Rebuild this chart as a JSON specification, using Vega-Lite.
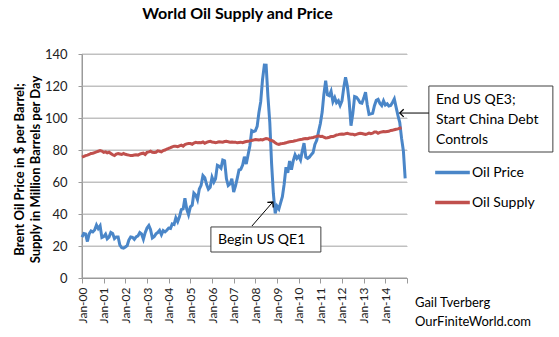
{
  "$schema": "https://vega.github.io/schema/vega-lite/v6.json",
  "width": 325,
  "height": 224,
  "autosize": {"type": "none"},
  "padding": {"left": 82, "top": 54, "right": 152, "bottom": 59},
  "background": "white",
  "title": {"text": "World Oil Supply and Price", "font": "Lato", "fontSize": 16, "fontWeight": "bold", "color": "#000000", "anchor": "middle", "offset": 26, "dx": -7},
  "config": {"view": {"stroke": null}, "font": "Lato"},
  "datasets": {
    "oil": [
      {"x":"2000-01","Oil Price":25.5,"Oil Supply":75.5},{"x":"2000-02","Oil Price":27.8,"Oil Supply":76.0},{"x":"2000-03","Oil Price":27.5,"Oil Supply":76.5},{"x":"2000-04","Oil Price":22.8,"Oil Supply":76.8},{"x":"2000-05","Oil Price":27.6,"Oil Supply":77.2},{"x":"2000-06","Oil Price":29.4,"Oil Supply":77.8},{"x":"2000-07","Oil Price":28.8,"Oil Supply":78.0},{"x":"2000-08","Oil Price":30.0,"Oil Supply":78.4},{"x":"2000-09","Oil Price":33.1,"Oil Supply":78.8},{"x":"2000-10","Oil Price":30.9,"Oil Supply":79.2},{"x":"2000-11","Oil Price":32.6,"Oil Supply":79.6},{"x":"2000-12","Oil Price":25.3,"Oil Supply":79.3},
      {"x":"2001-01","Oil Price":25.9,"Oil Supply":78.5},{"x":"2001-02","Oil Price":27.4,"Oil Supply":78.8},{"x":"2001-03","Oil Price":24.5,"Oil Supply":78.2},{"x":"2001-04","Oil Price":25.6,"Oil Supply":78.6},{"x":"2001-05","Oil Price":28.5,"Oil Supply":77.8},{"x":"2001-06","Oil Price":27.8,"Oil Supply":77.0},{"x":"2001-07","Oil Price":24.6,"Oil Supply":76.5},{"x":"2001-08","Oil Price":25.7,"Oil Supply":77.5},{"x":"2001-09","Oil Price":25.7,"Oil Supply":77.8},{"x":"2001-10","Oil Price":20.5,"Oil Supply":77.5},{"x":"2001-11","Oil Price":18.9,"Oil Supply":77.2},{"x":"2001-12","Oil Price":18.6,"Oil Supply":77.8},
      {"x":"2002-01","Oil Price":19.4,"Oil Supply":77.3},{"x":"2002-02","Oil Price":20.3,"Oil Supply":77.0},{"x":"2002-03","Oil Price":23.7,"Oil Supply":76.8},{"x":"2002-04","Oil Price":25.7,"Oil Supply":76.5},{"x":"2002-05","Oil Price":25.4,"Oil Supply":76.6},{"x":"2002-06","Oil Price":24.1,"Oil Supply":76.9},{"x":"2002-07","Oil Price":25.7,"Oil Supply":77.0},{"x":"2002-08","Oil Price":26.3,"Oil Supply":76.8},{"x":"2002-09","Oil Price":28.4,"Oil Supply":77.4},{"x":"2002-10","Oil Price":27.5,"Oil Supply":77.8},{"x":"2002-11","Oil Price":24.2,"Oil Supply":78.0},{"x":"2002-12","Oil Price":28.3,"Oil Supply":77.2},
      {"x":"2003-01","Oil Price":31.2,"Oil Supply":78.5},{"x":"2003-02","Oil Price":32.8,"Oil Supply":78.8},{"x":"2003-03","Oil Price":30.3,"Oil Supply":79.2},{"x":"2003-04","Oil Price":25.0,"Oil Supply":78.5},{"x":"2003-05","Oil Price":25.8,"Oil Supply":78.4},{"x":"2003-06","Oil Price":27.6,"Oil Supply":78.6},{"x":"2003-07","Oil Price":28.4,"Oil Supply":79.5},{"x":"2003-08","Oil Price":29.8,"Oil Supply":79.2},{"x":"2003-09","Oil Price":27.1,"Oil Supply":78.8},{"x":"2003-10","Oil Price":29.6,"Oil Supply":79.6},{"x":"2003-11","Oil Price":28.8,"Oil Supply":80.0},{"x":"2003-12","Oil Price":29.8,"Oil Supply":80.6},
      {"x":"2004-01","Oil Price":31.2,"Oil Supply":81.0},{"x":"2004-02","Oil Price":30.9,"Oil Supply":81.5},{"x":"2004-03","Oil Price":33.8,"Oil Supply":82.0},{"x":"2004-04","Oil Price":33.4,"Oil Supply":82.4},{"x":"2004-05","Oil Price":37.6,"Oil Supply":82.3},{"x":"2004-06","Oil Price":35.2,"Oil Supply":82.1},{"x":"2004-07","Oil Price":38.2,"Oil Supply":82.6},{"x":"2004-08","Oil Price":42.7,"Oil Supply":83.0},{"x":"2004-09","Oil Price":43.2,"Oil Supply":82.4},{"x":"2004-10","Oil Price":49.8,"Oil Supply":83.4},{"x":"2004-11","Oil Price":43.1,"Oil Supply":83.8},{"x":"2004-12","Oil Price":39.6,"Oil Supply":84.1},
      {"x":"2005-01","Oil Price":44.5,"Oil Supply":84.0},{"x":"2005-02","Oil Price":45.5,"Oil Supply":83.6},{"x":"2005-03","Oil Price":53.1,"Oil Supply":84.3},{"x":"2005-04","Oil Price":51.9,"Oil Supply":84.8},{"x":"2005-05","Oil Price":49.0,"Oil Supply":84.5},{"x":"2005-06","Oil Price":55.6,"Oil Supply":84.7},{"x":"2005-07","Oil Price":57.9,"Oil Supply":84.6},{"x":"2005-08","Oil Price":64.0,"Oil Supply":85.0},{"x":"2005-09","Oil Price":62.7,"Oil Supply":84.2},{"x":"2005-10","Oil Price":58.5,"Oil Supply":84.7},{"x":"2005-11","Oil Price":55.5,"Oil Supply":85.2},{"x":"2005-12","Oil Price":56.7,"Oil Supply":85.4},
      {"x":"2006-01","Oil Price":63.0,"Oil Supply":85.0},{"x":"2006-02","Oil Price":60.0,"Oil Supply":84.8},{"x":"2006-03","Oil Price":62.0,"Oil Supply":84.6},{"x":"2006-04","Oil Price":70.4,"Oil Supply":84.8},{"x":"2006-05","Oil Price":69.8,"Oil Supply":85.1},{"x":"2006-06","Oil Price":68.6,"Oil Supply":85.0},{"x":"2006-07","Oil Price":73.7,"Oil Supply":84.9},{"x":"2006-08","Oil Price":73.2,"Oil Supply":85.3},{"x":"2006-09","Oil Price":62.0,"Oil Supply":85.4},{"x":"2006-10","Oil Price":57.8,"Oil Supply":85.2},{"x":"2006-11","Oil Price":58.8,"Oil Supply":84.9},{"x":"2006-12","Oil Price":62.0,"Oil Supply":85.0},
      {"x":"2007-01","Oil Price":53.7,"Oil Supply":84.8},{"x":"2007-02","Oil Price":57.6,"Oil Supply":84.9},{"x":"2007-03","Oil Price":62.1,"Oil Supply":84.5},{"x":"2007-04","Oil Price":67.5,"Oil Supply":84.7},{"x":"2007-05","Oil Price":67.9,"Oil Supply":84.9},{"x":"2007-06","Oil Price":70.6,"Oil Supply":84.6},{"x":"2007-07","Oil Price":75.8,"Oil Supply":85.0},{"x":"2007-08","Oil Price":71.2,"Oil Supply":85.3},{"x":"2007-09","Oil Price":77.0,"Oil Supply":85.5},{"x":"2007-10","Oil Price":82.5,"Oil Supply":85.7},{"x":"2007-11","Oil Price":92.1,"Oil Supply":86.0},{"x":"2007-12","Oil Price":91.5,"Oil Supply":86.2},
      {"x":"2008-01","Oil Price":92.0,"Oil Supply":86.5},{"x":"2008-02","Oil Price":94.8,"Oil Supply":86.4},{"x":"2008-03","Oil Price":103.3,"Oil Supply":86.2},{"x":"2008-04","Oil Price":110.2,"Oil Supply":86.5},{"x":"2008-05","Oil Price":123.9,"Oil Supply":86.3},{"x":"2008-06","Oil Price":133.1,"Oil Supply":86.8},{"x":"2008-07","Oil Price":133.0,"Oil Supply":87.2},{"x":"2008-08","Oil Price":113.2,"Oil Supply":87.0},{"x":"2008-09","Oil Price":97.2,"Oil Supply":86.2},{"x":"2008-10","Oil Price":71.6,"Oil Supply":86.0},{"x":"2008-11","Oil Price":52.5,"Oil Supply":85.4},{"x":"2008-12","Oil Price":40.4,"Oil Supply":84.5},
      {"x":"2009-01","Oil Price":44.9,"Oil Supply":83.8},{"x":"2009-02","Oil Price":43.2,"Oil Supply":83.5},{"x":"2009-03","Oil Price":46.8,"Oil Supply":83.9},{"x":"2009-04","Oil Price":50.8,"Oil Supply":84.0},{"x":"2009-05","Oil Price":58.6,"Oil Supply":84.2},{"x":"2009-06","Oil Price":69.3,"Oil Supply":84.5},{"x":"2009-07","Oil Price":65.8,"Oil Supply":84.9},{"x":"2009-08","Oil Price":73.1,"Oil Supply":85.1},{"x":"2009-09","Oil Price":67.7,"Oil Supply":85.3},{"x":"2009-10","Oil Price":73.2,"Oil Supply":85.5},{"x":"2009-11","Oil Price":77.0,"Oil Supply":85.8},{"x":"2009-12","Oil Price":74.7,"Oil Supply":86.0},
      {"x":"2010-01","Oil Price":76.2,"Oil Supply":86.3},{"x":"2010-02","Oil Price":73.8,"Oil Supply":86.6},{"x":"2010-03","Oil Price":79.0,"Oil Supply":86.7},{"x":"2010-04","Oil Price":84.3,"Oil Supply":87.0},{"x":"2010-05","Oil Price":75.6,"Oil Supply":87.2},{"x":"2010-06","Oil Price":74.8,"Oil Supply":87.1},{"x":"2010-07","Oil Price":75.6,"Oil Supply":87.5},{"x":"2010-08","Oil Price":77.1,"Oil Supply":87.6},{"x":"2010-09","Oil Price":78.4,"Oil Supply":87.8},{"x":"2010-10","Oil Price":83.5,"Oil Supply":88.2},{"x":"2010-11","Oil Price":86.1,"Oil Supply":88.5},{"x":"2010-12","Oil Price":91.4,"Oil Supply":88.8},
      {"x":"2011-01","Oil Price":96.5,"Oil Supply":88.5},{"x":"2011-02","Oil Price":103.7,"Oil Supply":88.6},{"x":"2011-03","Oil Price":114.6,"Oil Supply":88.0},{"x":"2011-04","Oil Price":123.3,"Oil Supply":87.5},{"x":"2011-05","Oil Price":114.5,"Oil Supply":87.7},{"x":"2011-06","Oil Price":113.9,"Oil Supply":88.0},{"x":"2011-07","Oil Price":116.7,"Oil Supply":88.4},{"x":"2011-08","Oil Price":110.2,"Oil Supply":88.5},{"x":"2011-09","Oil Price":112.8,"Oil Supply":88.8},{"x":"2011-10","Oil Price":109.6,"Oil Supply":89.4},{"x":"2011-11","Oil Price":110.8,"Oil Supply":89.6},{"x":"2011-12","Oil Price":107.9,"Oil Supply":89.9},
      {"x":"2012-01","Oil Price":110.7,"Oil Supply":90.0},{"x":"2012-02","Oil Price":119.3,"Oil Supply":89.8},{"x":"2012-03","Oil Price":125.5,"Oil Supply":90.2},{"x":"2012-04","Oil Price":119.8,"Oil Supply":90.4},{"x":"2012-05","Oil Price":110.3,"Oil Supply":90.1},{"x":"2012-06","Oil Price":95.2,"Oil Supply":89.8},{"x":"2012-07","Oil Price":102.6,"Oil Supply":89.9},{"x":"2012-08","Oil Price":113.4,"Oil Supply":89.4},{"x":"2012-09","Oil Price":113.0,"Oil Supply":89.8},{"x":"2012-10","Oil Price":111.5,"Oil Supply":90.2},{"x":"2012-11","Oil Price":109.5,"Oil Supply":90.5},{"x":"2012-12","Oil Price":109.2,"Oil Supply":90.3},
      {"x":"2013-01","Oil Price":112.3,"Oil Supply":90.0},{"x":"2013-02","Oil Price":116.1,"Oil Supply":89.7},{"x":"2013-03","Oil Price":108.5,"Oil Supply":90.1},{"x":"2013-04","Oil Price":102.3,"Oil Supply":90.6},{"x":"2013-05","Oil Price":102.6,"Oil Supply":90.2},{"x":"2013-06","Oil Price":102.9,"Oil Supply":90.5},{"x":"2013-07","Oil Price":107.7,"Oil Supply":91.2},{"x":"2013-08","Oil Price":111.0,"Oil Supply":91.3},{"x":"2013-09","Oil Price":111.6,"Oil Supply":90.5},{"x":"2013-10","Oil Price":109.1,"Oil Supply":91.0},{"x":"2013-11","Oil Price":107.8,"Oil Supply":91.3},{"x":"2013-12","Oil Price":110.8,"Oil Supply":91.5},
      {"x":"2014-01","Oil Price":108.1,"Oil Supply":91.4},{"x":"2014-02","Oil Price":108.9,"Oil Supply":91.6},{"x":"2014-03","Oil Price":107.5,"Oil Supply":91.7},{"x":"2014-04","Oil Price":107.8,"Oil Supply":92.2},{"x":"2014-05","Oil Price":109.7,"Oil Supply":92.3},{"x":"2014-06","Oil Price":111.9,"Oil Supply":92.7},{"x":"2014-07","Oil Price":106.8,"Oil Supply":93.0},{"x":"2014-08","Oil Price":101.6,"Oil Supply":93.2},{"x":"2014-09","Oil Price":97.1,"Oil Supply":93.6},{"x":"2014-10","Oil Price":87.4,"Oil Supply":93.9},{"x":"2014-11","Oil Price":79.4,"Oil Supply":null},{"x":"2014-12","Oil Price":62.3,"Oil Supply":null}
    ],
    "gridlines": [
      {"x": "2000-01-01", "x2": "2015-01-01", "y": 20, "y2": 20},
      {"x": "2000-01-01", "x2": "2015-01-01", "y": 40, "y2": 40},
      {"x": "2000-01-01", "x2": "2015-01-01", "y": 60, "y2": 60},
      {"x": "2000-01-01", "x2": "2015-01-01", "y": 80, "y2": 80},
      {"x": "2000-01-01", "x2": "2015-01-01", "y": 100, "y2": 100},
      {"x": "2000-01-01", "x2": "2015-01-01", "y": 120, "y2": 120},
      {"x": "2000-01-01", "x2": "2015-01-01", "y": 140, "y2": 140}
    ],
    "axislines": [
      {"x": "2000-01-01", "x2": "2015-01-01", "y": 0, "y2": 0},
      {"x": "2000-01-01", "x2": "2000-01-01", "y": 0, "y2": 140}
    ],
    "boxes": [
      {"label": "QE1", "x": "2005-12-13", "x2": "2011-01-10", "y": 16.25, "y2": 31.9},
      {"label": "QE3", "x": "2016-01-05", "x2": "2021-09-25", "y": 78.75, "y2": 120}
    ],
    "arrows": [
      {"label": "QE1", "x": "2007-11-05", "y": 32.5, "x2": "2008-10-22", "y2": 47.5},
      {"label": "QE3", "x": "2016-01-05", "y": 103.1, "x2": "2014-09-02", "y2": 103.1}
    ],
    "heads": [
      {"label": "QE1", "x": "2008-10-22", "y": 47.5},
      {"label": "QE3", "x": "2014-09-02", "y": 103.1}
    ],
    "notes": [
      {"x": "2006-04-12", "y": 24, "text": "Begin US QE1"},
      {"x": "2016-05-03", "y": 111.25, "text": "End US QE3;"},
      {"x": "2016-05-03", "y": 98.75, "text": "Start China Debt"},
      {"x": "2016-05-03", "y": 86.25, "text": "Controls"}
    ],
    "credits": [
      {"x": "2015-05-15", "y": -15.6, "text": "Gail Tverberg"},
      {"x": "2015-05-15", "y": -27.5, "text": "OurFiniteWorld.com"}
    ]
  },
  "encoding": {
    "x": {
      "field": "x", "type": "temporal",
      "scale": {"type": "utc", "domain": [{"year": 2000, "month": 1, "date": 1, "utc": true}, {"year": 2015, "month": 1, "date": 1, "utc": true}]},
      "axis": {
        "title": null, "grid": false, "tickCount": {"interval": "year", "step": 1},
        "labelExpr": "utcyear(datum.value) > 2014 ? '' : utcFormat(datum.value, '%b-%y')",
        "labelAngle": 270, "labelFontSize": 12, "labelColor": "#222222", "labelPadding": 4,
        "labelFont": "Lato", "labelOverlap": false, "labelFlush": false,
        "domainColor": "#9a9a9a", "tickColor": "#9a9a9a", "tickSize": 5
      }
    },
    "y": {
      "field": "y", "type": "quantitative",
      "scale": {"domain": [0, 140], "nice": false, "zero": true},
      "axis": {
        "values": [0, 20, 40, 60, 80, 100, 120, 140], "labelOverlap": false,
        "grid": true, "gridColor": "#c0c0c0", "gridWidth": 1, "gridOpacity": 1,
        "domainColor": "#9a9a9a", "tickColor": "#9a9a9a", "tickSize": 4,
        "labelFontSize": 13, "labelColor": "#222222", "labelPadding": 11, "labelFont": "Lato",
        "title": ["Brent Oil Price in $ per Barrel;", "Supply in Million Barrels per Day"],
        "titleFont": "Lato", "titleFontSize": 13, "titleFontWeight": "bold", "titleColor": "#000000",
        "titleLineHeight": 16, "titleAngle": 270, "titleAlign": "center", "titleBaseline": "top",
        "titleX": -69, "titleY": 115
      }
    }
  },
  "layer": [
    {
      "data": {"name": "gridlines"},
      "mark": {"type": "rule", "stroke": "#c0c0c0", "strokeWidth": 1, "clip": false},
      "encoding": {
        "x2": {"field": "x2"},
        "y2": {"field": "y2"}
      }
    },
    {
      "data": {"name": "axislines"},
      "mark": {"type": "rule", "stroke": "#9a9a9a", "strokeWidth": 1, "clip": false},
      "encoding": {
        "x2": {"field": "x2"},
        "y2": {"field": "y2"}
      }
    },
    {
      "data": {"name": "oil"},
      "transform": [{"fold": ["Oil Price", "Oil Supply"], "as": ["series", "y"]}],
      "mark": {"type": "line", "strokeWidth": 3, "clip": false},
      "encoding": {
        "color": {
          "field": "series", "type": "nominal",
          "scale": {"domain": ["Oil Price", "Oil Supply"], "range": ["#4A86C8", "#C0504D"]},
          "legend": {
            "orient": "none", "legendX": 351, "legendY": 99, "title": null,
            "symbolType": "stroke", "symbolSize": 1200, "symbolStrokeWidth": 3.5,
            "labelFontSize": 14, "labelFont": "Lato", "labelColor": "#000000", "labelOffset": 0, "rowPadding": 3
          }
        }
      }
    },
    {
      "data": {"name": "boxes"},
      "mark": {"type": "rect", "fill": "white", "stroke": "#404040", "strokeWidth": 1, "clip": false},
      "encoding": {
        "x2": {"field": "x2"},
        "y2": {"field": "y2"}
      }
    },
    {
      "data": {"name": "arrows"},
      "mark": {"type": "rule", "stroke": "#000000", "strokeWidth": 1, "clip": false},
      "encoding": {
        "x2": {"field": "x2"},
        "y2": {"field": "y2"}
      }
    },
    {
      "data": {"name": "heads"},
      "transform": [{"filter": "datum.label == 'QE1'"}],
      "mark": {"type": "point", "shape": "M-1,1L0,0L1,1", "filled": false, "stroke": "#000000", "strokeWidth": 1.3, "size": 60, "angle": 41, "opacity": 1, "clip": false},
      "encoding": {}
    },
    {
      "data": {"name": "heads"},
      "transform": [{"filter": "datum.label == 'QE3'"}],
      "mark": {"type": "point", "shape": "M-1,1L0,0L1,1", "filled": false, "stroke": "#000000", "strokeWidth": 1.3, "size": 60, "angle": 270, "opacity": 1, "clip": false},
      "encoding": {}
    },
    {
      "data": {"name": "notes"},
      "mark": {"type": "text", "align": "left", "baseline": "middle", "font": "Lato", "fontSize": 14, "color": "#000000", "clip": false},
      "encoding": {"text": {"field": "text"}}
    },
    {
      "data": {"name": "credits"},
      "mark": {"type": "text", "align": "left", "baseline": "middle", "font": "Lato", "fontSize": 13, "color": "#000000", "clip": false},
      "encoding": {"text": {"field": "text"}}
    }
  ]
}
